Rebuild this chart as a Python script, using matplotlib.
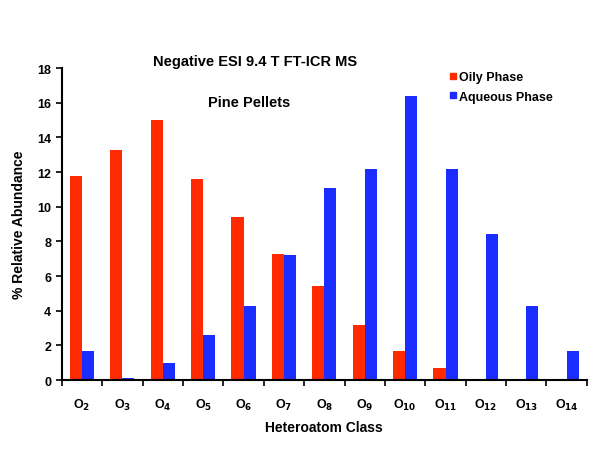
import numpy as np
import matplotlib
matplotlib.use("Agg")
import matplotlib.pyplot as plt
from matplotlib.lines import Line2D

plt.rcParams['font.family'] = ['Liberation Sans', 'DejaVu Sans']
plt.rcParams['font.weight'] = 'bold'

classes = [2, 3, 4, 5, 6, 7, 8, 9, 10, 11, 12, 13, 14]
oily = [11.8, 13.3, 15.0, 11.6, 9.4, 7.3, 5.4, 3.2, 1.7, 0.7, 0, 0, 0]
aqueous = [1.7, 0.1, 1.0, 2.6, 4.3, 7.2, 11.1, 12.2, 16.4, 12.2, 8.4, 4.3, 1.7]
labels = ["O$_{%d}$" % c for c in classes]

red = '#ff2a00'
blue = '#1a2cff'

fig = plt.figure(figsize=(5.94, 4.52), dpi=100)
ax = fig.add_axes([0.104, 0.157, 0.884, 0.69])

x = np.arange(len(classes))
w = 0.3
ax.bar(x - w/2, oily, w, color=red)
ax.bar(x + w/2, aqueous, w, color=blue)

ax.set_xlim(-0.5, 12.5)
ax.set_ylim(0, 18)
ax.set_yticks(range(0, 19, 2))
ax.set_xticks(np.arange(-0.5, 13, 1))
ax.set_xticklabels([])
ax.set_xticks(x, minor=True)
ax.set_xticklabels(labels, minor=True, fontsize=9, fontweight='bold')
ax.tick_params(axis='x', which='minor', length=0, pad=12)
ax.tick_params(axis='x', which='major', length=4, width=1.2, direction='out')
ax.tick_params(axis='y', length=4, width=1.2, labelsize=9)
for t in ax.get_yticklabels():
    t.set_fontweight('bold')

for s in ['top', 'right']:
    ax.spines[s].set_visible(False)
for s in ['left', 'bottom']:
    ax.spines[s].set_linewidth(1.5)

ax.set_xlabel("Heteroatom Class", fontsize=10, fontweight='bold', labelpad=6)
ax.set_ylabel("% Relative Abundance", fontsize=10, fontweight='bold', labelpad=8)

fig.text(0.43, 0.862, "Negative ESI 9.4 T FT-ICR MS", ha='center', va='center',
         fontsize=10.5, fontweight='bold')
fig.text(0.42, 0.772, "Pine Pellets", ha='center', va='center',
         fontsize=10.5, fontweight='bold')

handles = [Line2D([], [], marker='s', color=red, linestyle='', markersize=4),
           Line2D([], [], marker='s', color=blue, linestyle='', markersize=4)]
fig.legend(handles, ["Oily Phase", "Aqueous Phase"], loc='upper left',
           bbox_to_anchor=(0.735, 0.865), frameon=False, fontsize=9,
           handletextpad=0.1, handlelength=0.8, labelspacing=0.6)

fig.savefig("out.png", dpi=100)
